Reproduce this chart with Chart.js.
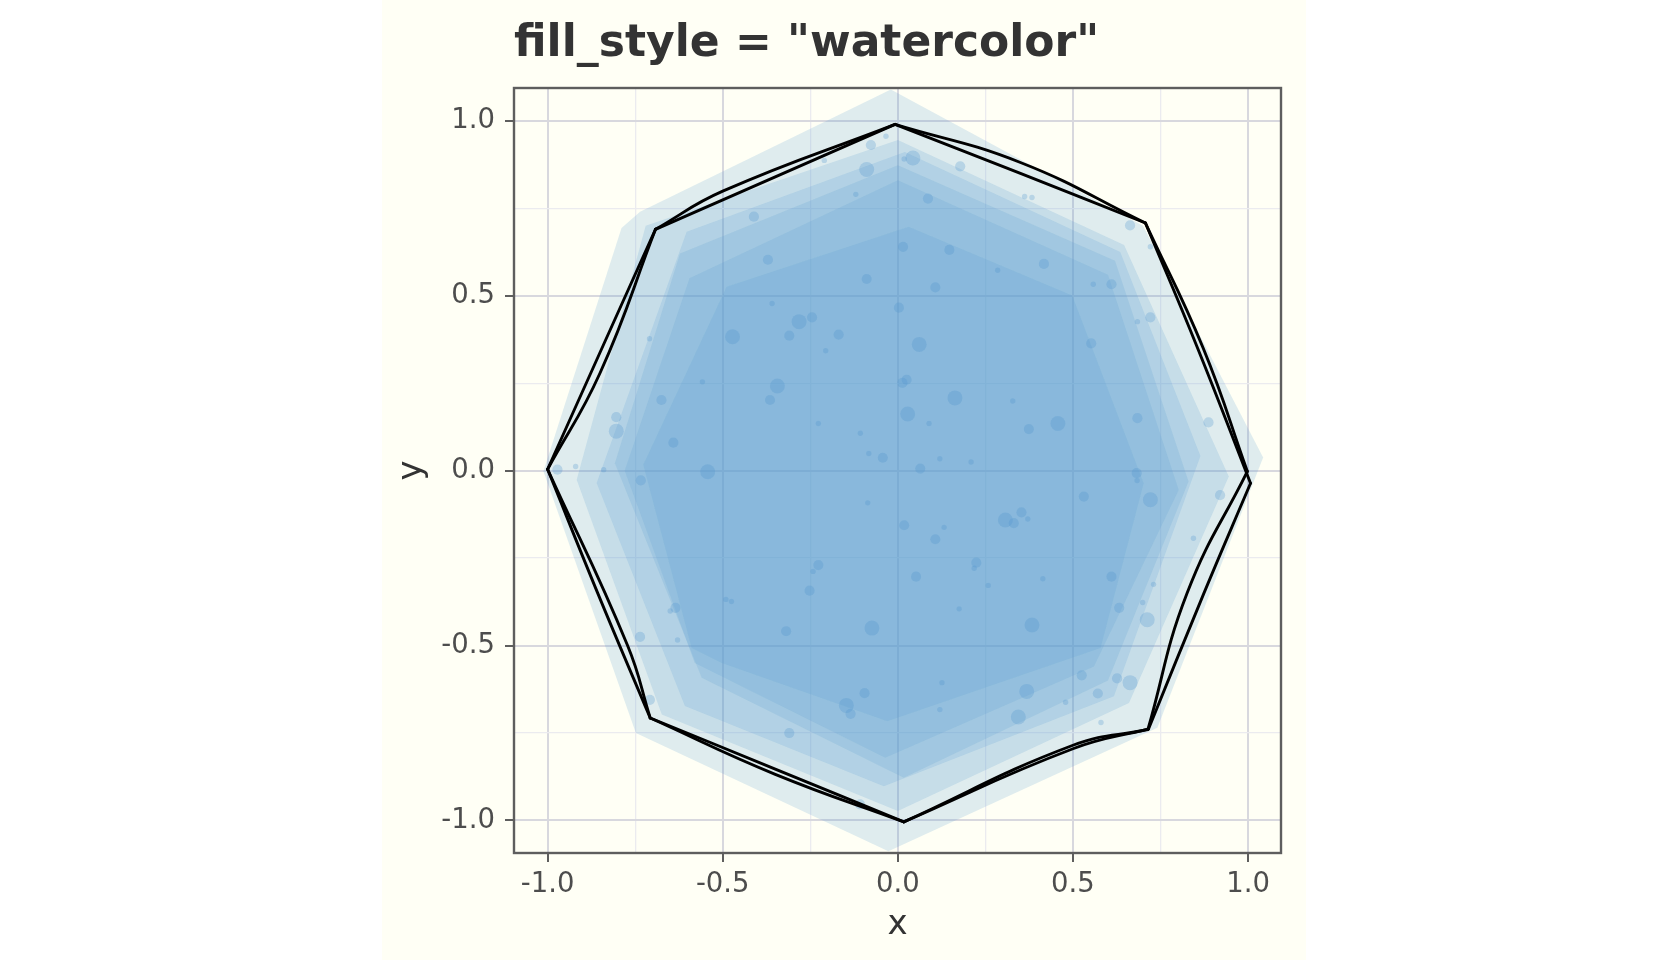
<!DOCTYPE html>
<html>
<head>
<meta charset="utf-8">
<title>fill_style = "watercolor"</title>
<script src="https://cdn.jsdelivr.net/npm/chart.js@4.4.1/dist/chart.umd.min.js"></script>
<style>
  html, body { margin: 0; padding: 0; background: #ffffff; }
  #panel { position: absolute; left: 382px; top: 0; width: 924px; height: 960px; background: #fffff5; }
</style>
</head>
<body>
<div id="panel"><canvas id="chart"></canvas></div>
<script>
// axis ticks: labelled every 0.5, minor grid in between
var gridSteps = [-1, -0.75, -0.5, -0.25, 0, 0.25, 0.5, 0.75, 1];
var xLimits = [-1.096, 1.094];
var yLimits = [-1.093, 1.094];

// watercolor wash layers, outer to inner (top, top-right, right, ... going clockwise)
var wash1 = [[-0.02, 1.09], [0.70, 0.70], [1.043, 0.038], [0.741, -0.735], [-0.027, -1.088],
             [-0.748, -0.75], [-1.012, -0.002], [-0.789, 0.694], [-0.736, 0.74]];
var wash2 = [[0.0, 0.945], [0.646, 0.645], [0.945, -0.017], [0.66, -0.664], [0.0, -0.973],
             [-0.674, -0.697], [-0.917, -0.026], [-0.72, 0.70]];
var wash3 = [[0.02, 0.911], [0.635, 0.625], [0.864, 0.042], [0.617, -0.645], [-0.04, -0.902],
             [-0.608, -0.673], [-0.86, -0.035], [-0.603, 0.683]];
var wash4 = [[0.0, 0.873], [0.62, 0.60], [0.83, -0.031], [0.60, -0.60], [0.017, -0.878],
             [-0.56, -0.592], [-0.808, 0.021], [-0.622, 0.621]];
var wash5 = [[0.0, 0.83], [0.60, 0.56], [0.802, -0.055], [0.56, -0.56], [-0.036, -0.821],
             [-0.58, -0.55], [-0.78, 0.0], [-0.595, 0.55]];
var wash6 = [[0.031, 0.697], [0.498, 0.501], [0.702, -0.036], [0.579, -0.507], [-0.03, -0.716],
             [-0.503, -0.55], [-0.589, -0.507], [-0.727, 0.017], [-0.489, 0.526]];
var washLayers = [wash1, wash2, wash3, wash4, wash5, wash6];

// the two sketched outline passes: corner, bend, corner, bend ...
var outlinePassA = [[-0.008, 0.99], [0.35, 0.881], [0.707, 0.708], [0.872, 0.35], [0.998, -0.002],
                    [0.826, -0.35], [0.714, -0.74], [0.5, -0.785], [0.017, -1.004], [-0.35, -0.853],
                    [-0.707, -0.707], [-0.857, -0.35], [-1.0, 0.004], [-0.836, 0.37], [-0.692, 0.69],
                    [-0.5, 0.799], [-0.008, 0.99]];
var outlinePassB = [[-0.008, 0.99], [0.35, 0.85], [0.707, 0.708], [0.856, 0.35], [1.007, -0.036],
                    [0.874, -0.35], [0.716, -0.738], [0.5, -0.795], [0.017, -1.004], [-0.35, -0.868],
                    [-0.707, -0.707], [-0.772, -0.499], [-1.0, 0.004], [-0.85, 0.28], [-0.692, 0.69],
                    [-0.35, 0.84], [-0.008, 0.99]];

// speckles: x, y, size class (1 small .. 3 large)
var speckles = [
  [-0.077, 0.931, 2], [-0.034, 0.956, 1], [0.043, 0.894, 3], [0.018, 0.891, 1], [-0.089, 0.861, 3],
  [0.178, 0.870, 2], [0.086, 0.778, 2], [-0.12, 0.790, 1], [-0.411, 0.726, 2], [0.362, 0.784, 1],
  [0.383, 0.781, 1], [0.663, 0.701, 2], [0.721, 0.640, 1], [0.015, 0.640, 2], [0.147, 0.631, 2],
  [-0.371, 0.603, 2], [0.417, 0.591, 2], [0.285, 0.573, 1], [-0.089, 0.548, 2], [0.107, 0.524, 2],
  [0.610, 0.533, 2], [0.558, 0.533, 1], [-0.359, 0.478, 1], [0.003, 0.466, 2], [0.721, 0.438, 2],
  [0.684, 0.426, 1], [-0.245, 0.438, 2], [-0.282, 0.426, 3], [-0.472, 0.383, 3], [-0.709, 0.377, 1],
  [-0.169, 0.389, 2], [-0.310, 0.386, 2], [-0.206, 0.343, 1], [0.061, 0.361, 3], [0.552, 0.364, 2],
  [0.025, 0.260, 2], [0.013, 0.251, 2], [-0.344, 0.242, 3], [-0.558, 0.254, 1], [-0.365, 0.202, 2],
  [-0.675, 0.202, 2], [0.163, 0.208, 3], [0.328, 0.199, 1], [0.028, 0.162, 3], [-0.804, 0.153, 2],
  [-0.227, 0.135, 1], [0.374, 0.119, 2], [0.457, 0.135, 3], [0.684, 0.150, 2], [0.887, 0.138, 2],
  [-0.804, 0.113, 3], [0.089, 0.135, 1], [-0.107, 0.107, 1], [-0.641, 0.080, 2], [-0.043, 0.037, 2],
  [-0.083, 0.049, 1], [0.120, 0.034, 1], [0.209, 0.025, 1], [-0.920, 0.012, 1], [-0.972, 0.003, 2],
  [-0.543, -0.003, 3], [0.064, 0.006, 2], [-0.840, 0.003, 1], [-0.734, -0.028, 2], [0.920, -0.070, 2],
  [0.721, -0.083, 3], [0.531, -0.074, 2], [-0.086, -0.092, 1], [0.353, -0.119, 2], [0.307, -0.141, 3],
  [0.331, -0.150, 2], [0.371, -0.138, 1], [0.018, -0.156, 2], [0.132, -0.162, 1], [0.107, -0.196, 2],
  [0.844, -0.193, 1], [-0.227, -0.270, 2], [-0.242, -0.288, 1], [0.224, -0.263, 2], [0.218, -0.279, 1],
  [0.052, -0.303, 2], [0.258, -0.328, 1], [0.414, -0.309, 1], [0.610, -0.303, 2], [0.730, -0.325, 1],
  [-0.252, -0.343, 2], [-0.491, -0.368, 1], [-0.475, -0.374, 1], [0.632, -0.392, 2], [-0.635, -0.392, 2],
  [-0.650, -0.401, 1], [0.175, -0.395, 1], [0.712, -0.426, 3], [0.699, -0.377, 1], [0.383, -0.441, 3],
  [-0.074, -0.450, 3], [-0.319, -0.459, 2], [-0.736, -0.475, 2], [-0.629, -0.484, 1], [0.663, -0.606, 3],
  [0.626, -0.594, 2], [0.525, -0.585, 2], [0.368, -0.631, 3], [0.126, -0.606, 1], [0.479, -0.662, 1],
  [0.571, -0.637, 2], [0.344, -0.704, 3], [-0.147, -0.671, 3], [-0.135, -0.695, 2], [0.120, -0.683, 1],
  [0.580, -0.720, 1], [-0.310, -0.750, 2], [-0.21, 0.887, 1], [0.682, -0.007, 2], [0.683, -0.028, 1],
  [-0.708, -0.655, 2], [-0.095, -0.636, 2], [-0.108, -0.954, 2]
];

var fontFamily = "'DejaVu Sans', sans-serif";
var majorGrid = "#d8d8de";
var minorGrid = "#ebebef";
var frameGray = "#5e5e5e";

function isMajor(v) {
  return Math.abs(v * 2 - Math.round(v * 2)) < 1e-9;
}

function toPoints(list) {
  return list.map(function (p) { return { x: p[0], y: p[1] }; });
}

var datasets = [];

// outline: each edge is its own short curved stroke, like a pen pass
[outlinePassA, outlinePassB].forEach(function (pass) {
  for (var i = 0; i + 2 < pass.length; i += 2) {
    datasets.push({
      type: "line",
      data: toPoints(pass.slice(i, i + 3)),
      borderColor: "#000000",
      borderWidth: 2.9,
      borderCapStyle: "round",
      borderJoinStyle: "round",
      tension: 0.45,
      pointRadius: 0,
      fill: false,
      order: 0
    });
  }
});

datasets.push({
  type: "bubble",
  data: speckles.map(function (s) { return { x: s[0], y: s[1], r: 0.3 + 2.4 * s[2] }; }),
  backgroundColor: "rgba(78, 146, 205, 0.28)",
  borderWidth: 0,
  hoverRadius: 0,
  order: 1
});

washLayers.forEach(function (layer, i) {
  datasets.push({
    type: "line",
    data: toPoints(layer.concat([layer[0]])),
    backgroundColor: "rgba(95, 160, 210, 0.2)",
    borderColor: "rgba(0, 0, 0, 0)",
    borderWidth: 0,
    pointRadius: 0,
    tension: 0,
    fill: "shape",
    order: 2 + i
  });
});

function axisOptions(limits, title, isX) {
  return {
    type: "linear",
    min: limits[0],
    max: limits[1],
    afterBuildTicks: function (scale) {
      scale.ticks = gridSteps.map(function (v) { return { value: v }; });
    },
    afterFit: function (scale) {
      if (isX) { scale.height = 107; } else { scale.width = 132; }
    },
    ticks: {
      autoSkip: false,
      maxRotation: 0,
      padding: isX ? 6 : 10,
      color: "#4d4d4d",
      font: { family: fontFamily, size: 27.5 },
      callback: function (v) { return isMajor(v) ? v.toFixed(1) : ""; }
    },
    grid: {
      color: function (ctx) { return isMajor(ctx.tick.value) ? majorGrid : minorGrid; },
      lineWidth: function (ctx) { return isMajor(ctx.tick.value) ? 2 : 1.3; },
      tickColor: function (ctx) { return isMajor(ctx.tick.value) ? frameGray : "rgba(0,0,0,0)"; },
      tickLength: 9,
      tickWidth: 2
    },
    border: { display: false },
    title: {
      display: true,
      text: title,
      color: "#333333",
      font: { family: fontFamily, size: 34 },
      padding: isX ? { top: 0, bottom: 14 } : { top: 10, bottom: 0 }
    }
  };
}

// panel frame drawn over the data, and the plot title
var panelDecor = {
  id: "panelDecor",
  afterDatasetsDraw: function (chart) {
    var a = chart.chartArea;
    var ctx = chart.ctx;
    ctx.save();
    ctx.strokeStyle = frameGray;
    ctx.lineWidth = 2.4;
    ctx.strokeRect(a.left, a.top, a.right - a.left, a.bottom - a.top);
    ctx.restore();
  },
  afterDraw: function (chart) {
    var ctx = chart.ctx;
    ctx.save();
    ctx.fillStyle = "#333333";
    ctx.font = "bold 44px " + fontFamily;
    ctx.textAlign = "left";
    ctx.textBaseline = "alphabetic";
    ctx.fillText('fill_style = "watercolor"', chart.chartArea.left, 56);
    ctx.restore();
  }
};

new Chart(document.getElementById("chart"), {
  type: "line",
  data: { datasets: datasets },
  options: {
    responsive: true,
    maintainAspectRatio: false,
    devicePixelRatio: 1,
    animation: false,
    layout: { padding: { top: 88, right: 25, bottom: 0, left: 0 } },
    plugins: {
      legend: { display: false },
      tooltip: { enabled: false }
    },
    scales: {
      x: axisOptions(xLimits, "x", true),
      y: axisOptions(yLimits, "y", false)
    }
  },
  plugins: [panelDecor]
});
</script>
</body>
</html>
